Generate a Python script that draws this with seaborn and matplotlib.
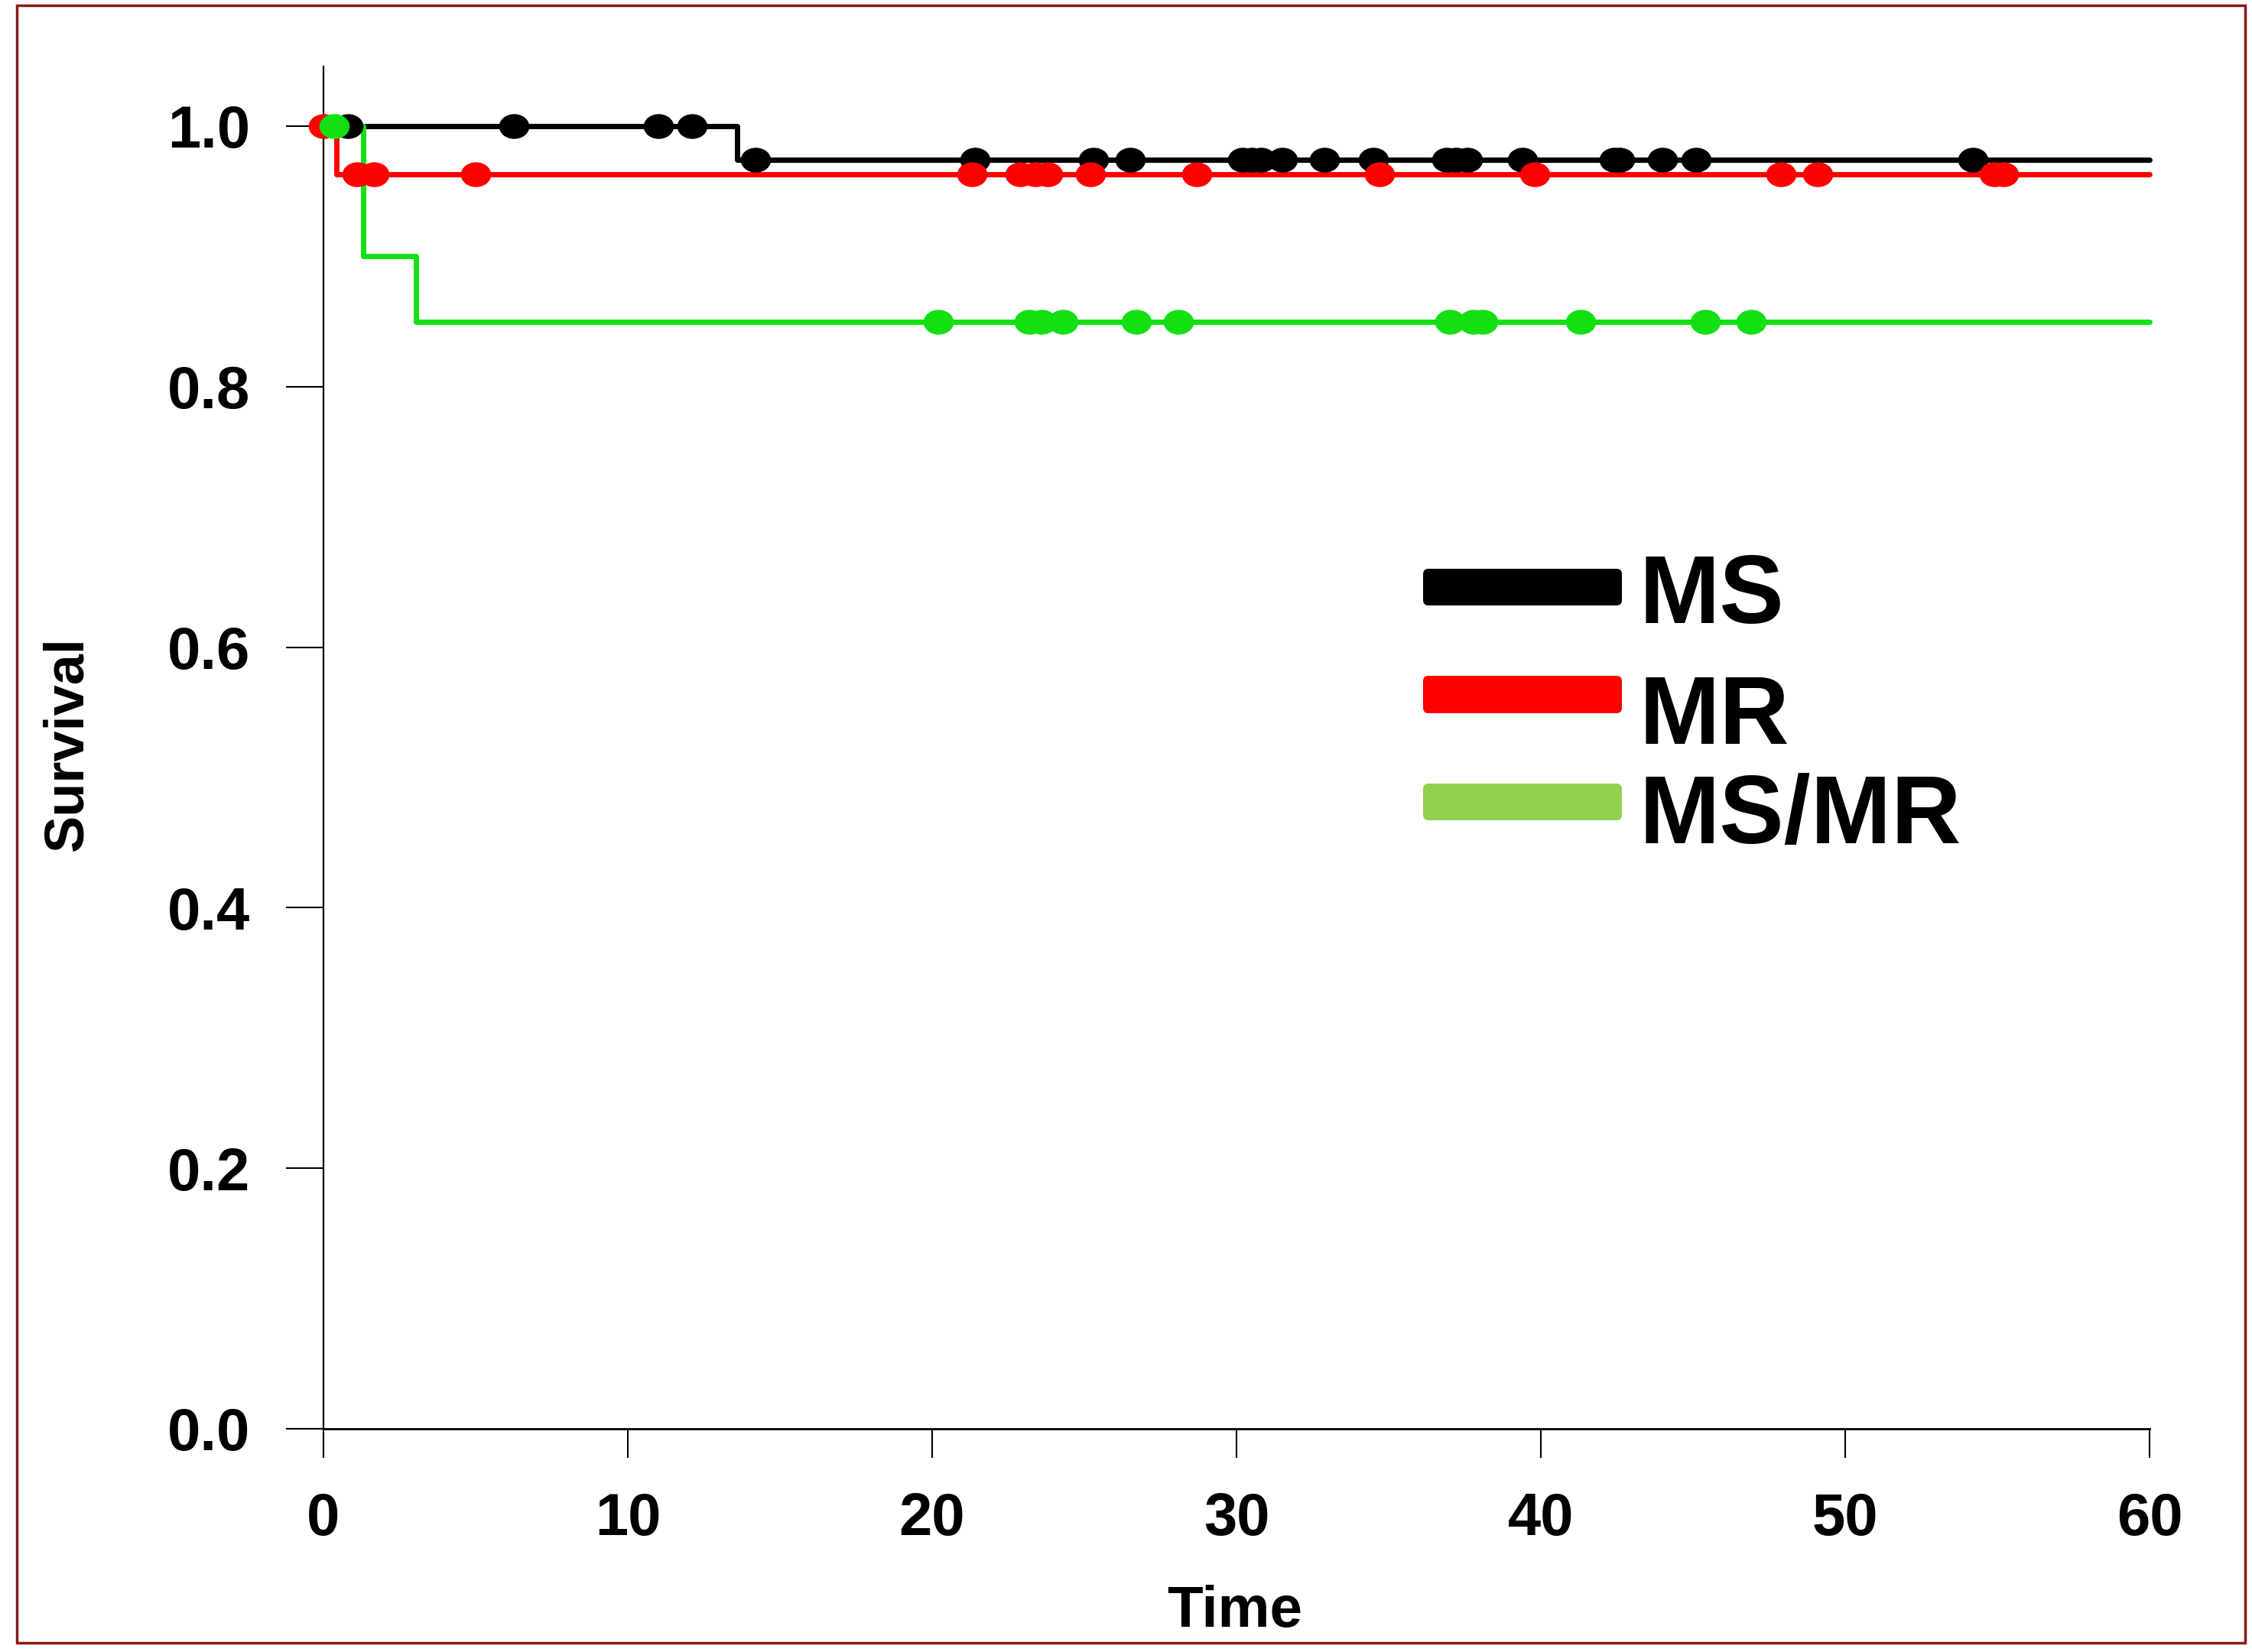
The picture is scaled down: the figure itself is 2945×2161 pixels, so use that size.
import numpy as np
import pandas as pd
import matplotlib
matplotlib.use("Agg")
import matplotlib.pyplot as plt
import seaborn as sns
from matplotlib.path import Path
from matplotlib.patches import FancyBboxPatch, Rectangle

# ---------------- data ----------------
groups = ["MS", "MR", "MS/MR"]
ms_step_t = [0.0, 13.6, 60.0]
ms_step_s = [1.0, 0.974, 0.974]
mr_step_t = [0.0, 0.43, 60.0]
mr_step_s = [1.0, 0.963, 0.963]
msmr_step_t = [0.0, 1.3, 3.05, 60.0]
msmr_step_s = [1.0, 0.90, 0.85, 0.85]

ms_censor = [0.8, 6.25, 11.0, 12.1, 14.2, 21.4, 25.3, 26.5, 30.2, 30.5, 30.8, 31.5,
             32.9, 34.5, 36.9, 37.2, 37.6, 39.4, 42.4, 42.6, 44.0, 45.1, 54.2]
mr_censor = [0.0, 1.1, 1.65, 5.0, 21.3, 22.9, 23.4, 23.8, 25.2, 28.7, 34.7, 39.8,
             47.9, 49.1, 54.9, 55.2]
msmr_censor = [0.35, 20.2, 23.2, 23.6, 24.3, 26.7, 28.1, 37.0, 37.8, 38.1, 41.3,
               45.4, 46.9]

line_colors = ["#000000", "#FF0000", "#12E012"]
legend_colors = ["#000000", "#FF0000", "#92D050"]
x_ticks = [0, 10, 20, 30, 40, 50, 60]
y_ticks = [0.0, 0.2, 0.4, 0.6, 0.8, 1.0]

# ---------------- build tables ----------------
steps = [(ms_step_t, ms_step_s), (mr_step_t, mr_step_s), (msmr_step_t, msmr_step_s)]
cens = [ms_censor, mr_censor, msmr_censor]

def surv_at(t, st, ss):
    idx = np.searchsorted(st, t, side="right") - 1
    return np.asarray(ss)[np.clip(idx, 0, len(ss) - 1)]

step_df = pd.concat([pd.DataFrame({"time": st, "surv": ss, "group": g})
                     for g, (st, ss) in zip(groups, steps)], ignore_index=True)
cens_df = pd.concat([pd.DataFrame({"time": c, "surv": surv_at(np.array(c), st, ss), "group": g})
                     for g, c, (st, ss) in zip(groups, cens, steps)], ignore_index=True)

# ---------------- style ----------------
sns.set_theme(style="white")
plt.rcParams["font.family"] = ["Liberation Sans", "DejaVu Sans"]
plt.rcParams["font.weight"] = "bold"

W, H = 2945, 2161
fig = plt.figure(figsize=(W / 100, H / 100), dpi=100)
fig.patch.set_facecolor("white")

left_px, right_px = 423, 2811
y0_px, y1_px = 1869, 165
ytop = 1.046
top_px = y0_px - ytop * (y0_px - y1_px)
ax = fig.add_axes([left_px / W, 1 - y0_px / H, (right_px - left_px) / W, (y0_px - top_px) / H])
ax.set_facecolor("white")

# ellipse marker (wider than tall)
circ = Path.unit_circle()
ell = Path(circ.vertices * np.array([1.0, 0.82]), circ.codes)

for g, col in zip(groups, line_colors):
    sub = step_df[step_df.group == g]
    sns.lineplot(data=sub, x="time", y="surv", ax=ax, color=col, lw=5.0,
                 drawstyle="steps-post", estimator=None, sort=False, legend=False)
    csub = cens_df[cens_df.group == g]
    sns.scatterplot(data=csub, x="time", y="surv", ax=ax, color=col, marker=ell,
                    s=28.5 ** 2, linewidth=0, legend=False, zorder=3, clip_on=False)

for ln in ax.lines:
    ln.set_clip_on(False)
for coll in ax.collections:
    coll.set_clip_on(False)

ax.set_xlim(0, 60)
ax.set_ylim(0, ytop)
ax.set_xticks(x_ticks)
ax.set_yticks(y_ticks)
ax.set_xticklabels([str(v) for v in x_ticks])
ax.set_yticklabels([f"{v:.1f}" for v in y_ticks])
ax.set_xlabel("")
ax.set_ylabel("")
for s in ["top", "right"]:
    ax.spines[s].set_visible(False)
for s in ["left", "bottom"]:
    ax.spines[s].set_color("black")
ax.spines["left"].set_linewidth(1.6)
ax.spines["bottom"].set_linewidth(2.0)
ax.tick_params(axis="x", direction="out", length=27, width=1.5, pad=32,
               labelsize=56, colors="black", bottom=True)
ax.tick_params(axis="y", direction="out", length=35, width=1.5, pad=34,
               labelsize=56, colors="black", left=True)
for lab in ax.get_xticklabels() + ax.get_yticklabels():
    lab.set_fontweight("bold")

# axis titles
fig.text(1615 / W, 1 - 2128 / H, "Time", ha="center", va="baseline",
         fontsize=55, fontweight="bold", color="black")
fig.text(88 / W, 1 - 973 / H, "Survival", ha="center", va="center", rotation=90,
         fontsize=52, fontweight="bold", color="black")

# legend (manual)
patch_rows = [(744, 792), (884, 933), (1025, 1073)]
text_base = [815, 973, 1103]
for (ya, yb), tb, g, col in zip(patch_rows, text_base, groups, legend_colors):
    p = FancyBboxPatch((1861 / W, 1 - yb / H), (2121 - 1861) / W, (yb - ya) / H,
                       boxstyle="round,pad=0,rounding_size=0.0024",
                       mutation_aspect=1.363, transform=fig.transFigure,
                       facecolor=col, edgecolor="none")
    fig.patches.append(p)
    fig.text(2143 / W, 1 - tb / H, g, ha="left", va="baseline", fontsize=91,
             fontweight="bold", color="black")

# outer frame
fig.patches.append(Rectangle((22 / W, 1 - 2149 / H), (2936 - 22) / W, (2149 - 7) / H,
                             transform=fig.transFigure, fill=False,
                             edgecolor="#8B1A1A", linewidth=2.5))

fig.savefig("out.png", dpi=100, facecolor="white")
